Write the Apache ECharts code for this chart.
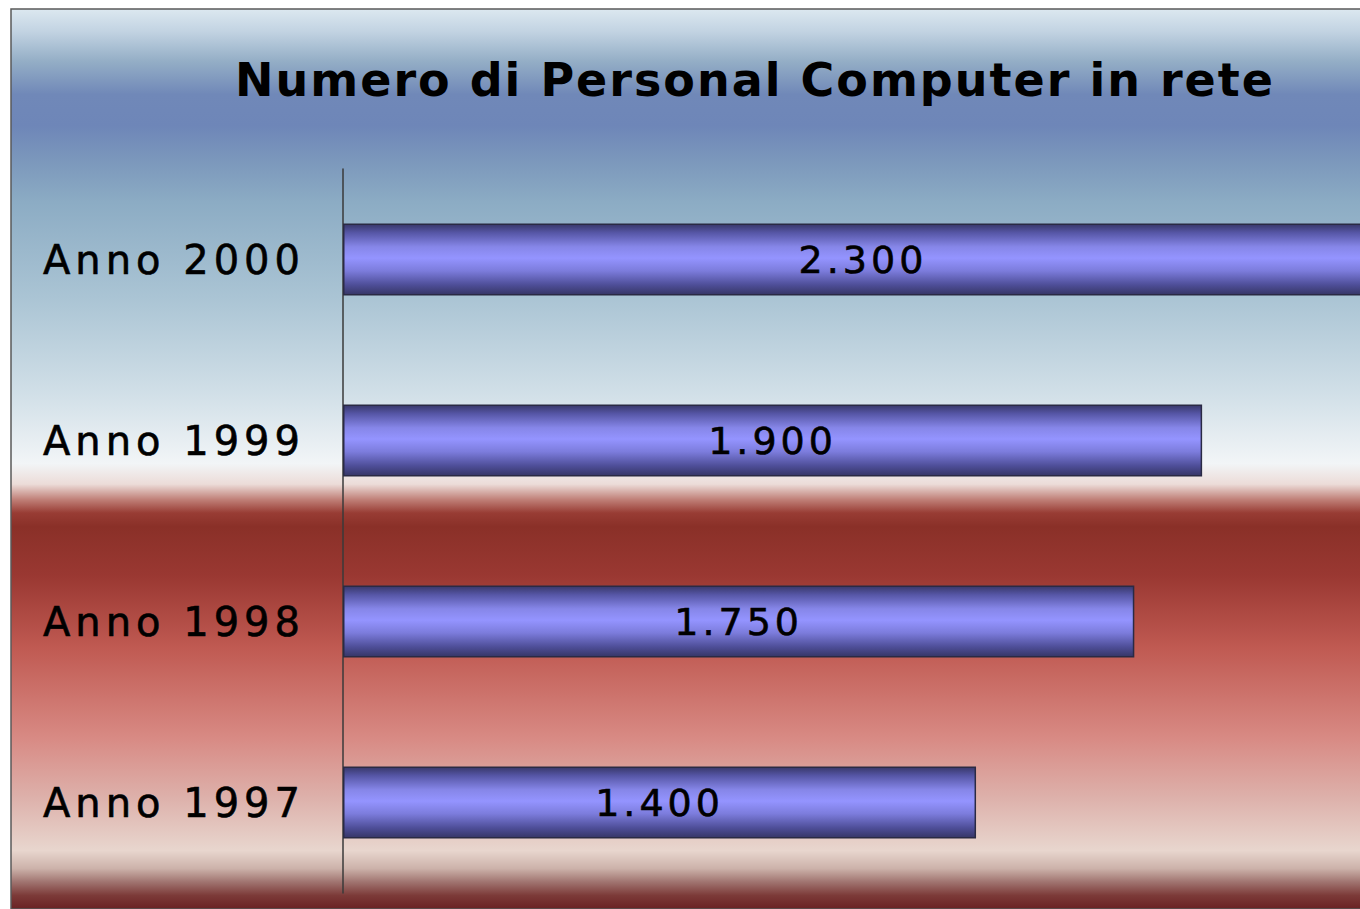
<!DOCTYPE html>
<html>
<head>
<meta charset="utf-8">
<script src="https://cdn.jsdelivr.net/npm/echarts@6/dist/echarts.min.js"></script>
<style>
  html, body { margin: 0; padding: 0; background: #fff; }
  #myChart { width: 1360px; height: 909px; }
  /* il grafico originale ha il testo "allargato" */
  #myChart text[style*="46px"] { letter-spacing: 2px; }
  #myChart text[style*="40px"] { letter-spacing: 5px; }
  #myChart text[style*="38px"] { letter-spacing: 4px; }
</style>
</head>
<body>
<div id="myChart"></div>
<script>
// dati
var anni = ["Anno 1997", "Anno 1998", "Anno 1999", "Anno 2000"];
var pcInRete = [1400, 1750, 1900, 2300];
var titolo = "Numero di Personal Computer in rete";

// 2300 -> "2.300"
function formatta(v) {
  return String(v).replace(/\B(?=(\d{3})+(?!\d))/g, ".");
}

var myChart = echarts.init(document.getElementById("myChart"), null, { renderer: "svg" });

var option = {
  backgroundColor: "#ffffff",
  animation: false,
  title: {
    text: titolo,
    left: 230,
    top: 52,
    textStyle: {
      fontFamily: "DejaVu Sans",
      fontWeight: "bold",
      fontSize: 46,
      color: "#000"
    }
  },
  graphic: {
    elements: [
      {
        type: "rect",
        z: -10,
        shape: { x: 11, y: 9, width: 1400, height: 900 },
        style: {
          stroke: "#5a5a5a",
          lineWidth: 1.5,
          fill: {
            type: "linear", x: 0, y: 0, x2: 0, y2: 1,
            colorStops: [
              { offset: 0.0, color: "#dce8f0" },
              { offset: 0.025, color: "#c2d3e2" },
              { offset: 0.058, color: "#94aec6" },
              { offset: 0.095, color: "#7088b8" },
              { offset: 0.13, color: "#6e86b8" },
              { offset: 0.17, color: "#7c98bc" },
              { offset: 0.215, color: "#8cacc4" },
              { offset: 0.32, color: "#aac4d4" },
              { offset: 0.43, color: "#d2e0e8" },
              { offset: 0.505, color: "#f2f5f7" },
              { offset: 0.528, color: "#ecdcd8" },
              { offset: 0.545, color: "#c08078" },
              { offset: 0.56, color: "#983c34" },
              { offset: 0.575, color: "#8a3028" },
              { offset: 0.63, color: "#9a3832" },
              { offset: 0.71, color: "#c05a52" },
              { offset: 0.81, color: "#d88a84" },
              { offset: 0.875, color: "#ddb0aa" },
              { offset: 0.935, color: "#e8d6ce" },
              { offset: 0.955, color: "#ccb2aa" },
              { offset: 0.97, color: "#a07470" },
              { offset: 0.985, color: "#7c3a38" },
              { offset: 1.0, color: "#6a2224" }
            ]
          }
        }
      }
    ]
  },
  grid: {
    left: 343,
    width: 1040,
    top: 169,
    height: 724,
    containLabel: false,
    outerBoundsMode: "none"
  },
  xAxis: {
    type: "value",
    min: 0,
    max: 2300,
    show: false
  },
  yAxis: {
    type: "category",
    data: anni,
    axisLine: { show: true, lineStyle: { color: "#3a3a3a", width: 1.5 } },
    axisTick: { show: false },
    axisLabel: {
      margin: 38,
      fontFamily: "DejaVu Sans",
      fontSize: 40,
      color: "#000",
      textBorderColor: "#000",
      textBorderWidth: 0.6
    }
  },
  series: [
    {
      name: "PC in rete",
      type: "bar",
      data: pcInRete,
      barWidth: 72,
      itemStyle: {
        borderColor: "#2a2a44",
        borderWidth: 1.5,
        color: {
          type: "linear", x: 0, y: 0, x2: 0, y2: 1,
          colorStops: [
            { offset: 0.0, color: "#38386a" },
            { offset: 0.12, color: "#5656a6" },
            { offset: 0.32, color: "#8686e8" },
            { offset: 0.48, color: "#9494ff" },
            { offset: 0.66, color: "#7c7cdc" },
            { offset: 0.86, color: "#4e4e98" },
            { offset: 1.0, color: "#363666" }
          ]
        }
      },
      label: {
        show: true,
        position: "inside",
        fontFamily: "DejaVu Sans",
        fontSize: 38,
        color: "#000",
        textBorderColor: "#000",
        textBorderWidth: 0.6,
        formatter: function (p) { return formatta(p.value); }
      }
    }
  ]
};

window.onresize = myChart.resize;
myChart.setOption(option);
</script>
</body>
</html>
